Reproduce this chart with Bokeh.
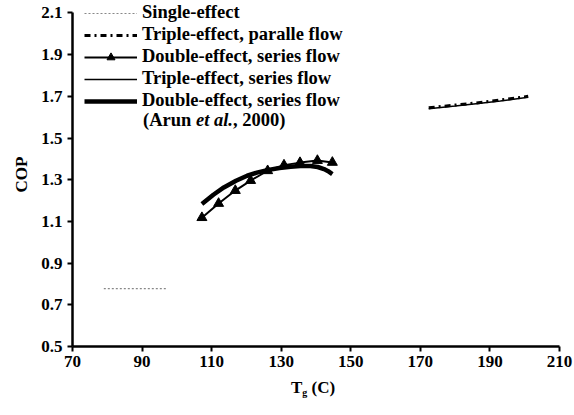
from bokeh.plotting import figure
from bokeh.models import FixedTicker, Legend, LegendItem, Label, Range1d, Title, Div
from bokeh.layouts import column
from bokeh.embed import file_html
from bokeh.resources import INLINE

# ---- data ----
single_T = [79, 97]
single_cop = [0.778, 0.778]

triple_par_T = [172.4, 180, 186, 193, 201]
triple_par_cop = [1.645, 1.658, 1.668, 1.682, 1.700]

triple_ser_T = [172.4, 180, 186, 193, 201]
triple_ser_cop = [1.640, 1.653, 1.664, 1.677, 1.695]

double_T = [107.2, 112.0, 116.8, 121.2, 126.1, 130.8, 135.4, 140.4, 144.7]
double_cop = [1.118, 1.186, 1.248, 1.296, 1.343, 1.370, 1.382, 1.392, 1.383]

arun_T = [107.2, 110.5, 113.5, 117, 120.2, 123, 126, 129.5, 132.7, 135.5, 138.4, 140.5, 142.3, 143.5, 144.7]
arun_cop = [1.184, 1.228, 1.263, 1.295, 1.319, 1.334, 1.346, 1.356, 1.362, 1.366, 1.366, 1.361, 1.351, 1.341, 1.327]

x_ticks = [70, 90, 110, 130, 150, 170, 190, 210]
y_ticks = [0.5, 0.7, 0.9, 1.1, 1.3, 1.5, 1.7, 1.9, 2.1]

FONT = "Liberation Serif"

p = figure(width=574, height=378, output_backend="svg", toolbar_location=None,
           x_range=Range1d(70, 210), y_range=Range1d(0.5, 2.15),
           min_border_left=72, min_border_right=15, min_border_top=2, min_border_bottom=32)
p.outline_line_color = None
p.grid.visible = False
p.background_fill_color = "white"
p.border_fill_color = "white"

for ax in (p.xaxis[0], p.yaxis[0]):
    ax.axis_line_width = 2.5
    ax.axis_line_color = "black"
    ax.major_tick_line_width = 2
    ax.major_tick_line_color = "black"
    ax.major_tick_out = 5
    ax.major_tick_in = 0
    ax.minor_tick_line_color = None
    ax.major_label_text_font = FONT
    ax.major_label_text_font_style = "bold"
    ax.major_label_text_font_size = "17px"
    ax.major_label_text_color = "black"

p.xaxis[0].ticker = FixedTicker(ticks=x_ticks)
p.yaxis[0].ticker = FixedTicker(ticks=y_ticks)
p.yaxis[0].bounds = (0.5, 2.1)
p.xaxis[0].major_label_standoff = 4
p.yaxis[0].major_label_standoff = 5

r_single = p.line(single_T, single_cop, line_color="#888888", line_width=1.2, line_dash="2 2")
r_ser = p.line(triple_ser_T, triple_ser_cop, line_color="black", line_width=1.5)
r_par = p.line(triple_par_T, triple_par_cop, line_color="black", line_width=3, line_dash="6 4 2 4")
r_dl = p.line(double_T, double_cop, line_color="black", line_width=2)
r_dm = p.scatter(double_T, double_cop, marker="triangle", size=10, fill_color="black", line_color="black")
r_arun = p.line(arun_T, arun_cop, line_color="black", line_width=4.5)

legend = Legend(items=[
    LegendItem(label="Single-effect", renderers=[r_single]),
    LegendItem(label="Triple-effect, paralle flow", renderers=[r_par]),
    LegendItem(label="Double-effect, series flow", renderers=[r_dl, r_dm]),
    LegendItem(label="Triple-effect, series flow", renderers=[r_ser]),
    LegendItem(label="Double-effect, series flow", renderers=[r_arun]),
], location=(12, 235), orientation="vertical")
legend.border_line_color = None
legend.background_fill_alpha = 0
legend.padding = 0
legend.margin = 0
legend.spacing = 1
legend.glyph_width = 53
legend.glyph_height = 20
legend.label_height = 20
legend.label_standoff = 5
legend.label_text_font = FONT
legend.label_text_font_style = "bold"
legend.label_text_font_size = "18.5px"
legend.label_text_color = "black"
p.add_layout(legend, "center")

common = dict(text_font=FONT, text_font_size="18.5px", text_color="black", text_baseline="middle")
# "(Arun et al., 2000)" under the legend
p.add_layout(Label(x=70, y=2.1, x_offset=70.5, y_offset=-107, text="(Arun", text_font_style="bold", **common))
p.add_layout(Label(x=70, y=2.1, x_offset=123.5, y_offset=-107, text="et al.", text_font_style="bold italic", **common))
p.add_layout(Label(x=70, y=2.1, x_offset=160.5, y_offset=-107, text=", 2000)", text_font_style="bold", **common))

# y-axis title
p.add_layout(Title(text="COP", align="center", offset=-10, standoff=15, text_font=FONT,
                   text_font_size="17px", text_font_style="bold", text_color="black"), "left")

# x-axis title with subscript
xlabel = Div(
    text=('<div style="width:574px;text-align:center;padding-left:52px;box-sizing:border-box;'
          'font-family:\'Liberation Serif\';font-weight:bold;font-size:17px;line-height:20px;color:black;">'
          'T<sub style="font-size:10px;vertical-align:-3px;">g</sub> (C)</div>'),
    width=574, height=37, margin=(0, 0, 0, 0))

layout = column(p, xlabel, spacing=0)
open("out.html", "w").write(file_html(layout, INLINE))
